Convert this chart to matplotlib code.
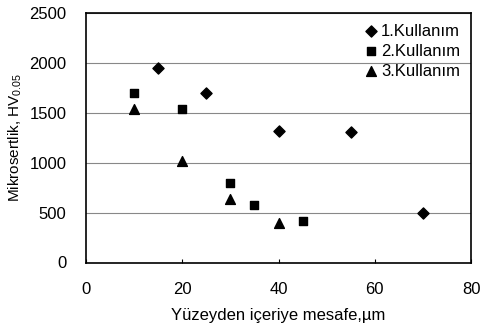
import matplotlib
matplotlib.use("Agg")
import matplotlib.pyplot as plt

plt.rcParams['font.family'] = ['Liberation Sans', 'DejaVu Sans']
plt.rcParams['mathtext.fontset'] = 'custom'
plt.rcParams['mathtext.rm'] = 'Liberation Sans'

x1 = [15, 25, 40, 55, 70]
y1 = [1950, 1700, 1320, 1310, 500]
x2 = [10, 20, 30, 35, 45]
y2 = [1700, 1540, 800, 580, 420]
x3 = [10, 20, 30, 40]
y3 = [1540, 1020, 640, 400]
labels = ['1.Kullanım', '2.Kullanım', '3.Kullanım']

fig = plt.figure(figsize=(4.82, 3.34), dpi=100)
ax = fig.add_axes([86/482, 1-262.5/334, (471-86)/482, (262.5-13)/334])

ax.scatter(x1, y1, marker='D', s=32, color='black', label=labels[0], zorder=3)
ax.scatter(x2, y2, marker='s', s=38, color='black', label=labels[1], zorder=3)
ax.scatter(x3, y3, marker='^', s=50, color='black', label=labels[2], zorder=3)

ax.set_xlim(0, 80)
ax.set_ylim(0, 2500)
ax.set_xticks([0, 20, 40, 60, 80])
ax.set_yticks([0, 500, 1000, 1500, 2000, 2500])
ax.grid(axis='y', color='#888888', linewidth=0.8)
ax.set_axisbelow(True)
for s in ax.spines.values():
    s.set_linewidth(1.2)
ax.tick_params(axis='x', direction='in', length=3, pad=14, labelsize=12)
ax.tick_params(axis='y', length=0, pad=14, labelsize=12)
ax.set_xlabel('Yüzeyden içeriye mesafe,µm', fontsize=12, labelpad=8)
ax.set_ylabel(r'Mikrosertlik, HV$_{\mathrm{0.05}}$', fontsize=11, labelpad=4)
leg = ax.legend(loc='upper right', frameon=False, fontsize=12, handletextpad=0.1,
                handlelength=1.0, labelspacing=0.3, borderaxespad=0.25)

fig.savefig('out.png', dpi=100)
